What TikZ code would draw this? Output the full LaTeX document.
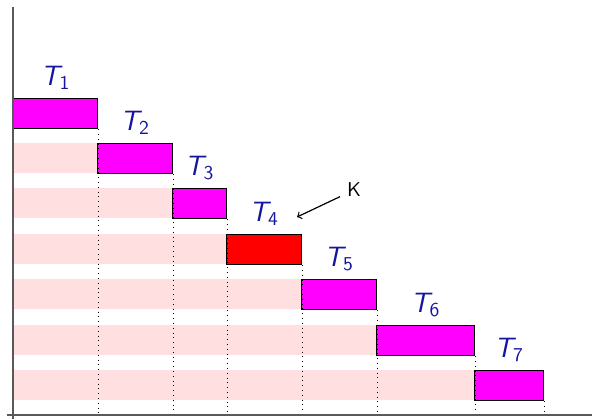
\documentclass[tikz,border=0pt]{standalone}
\usepackage{tikz}
\usetikzlibrary{arrows}
\usepackage{amsmath}
\definecolor{tblue}{rgb}{0.08,0.08,0.62}
\definecolor{tpink}{rgb}{1,0.875,0.875}
\definecolor{tmag}{rgb}{1,0,1}
\tikzset{task/.style={draw=black, fill=tmag, line width=0.6pt, minimum height=15pt, inner sep=0pt, anchor=north west}}
\tikzset{tlabel/.style={text=tblue, font=\fontsize{14}{16}\sffamily, above=0.5pt}}
\tikzset{axis/.style={draw=black!65, line width=0.8pt}}
\newcommand{\tk}[1]{$\textsf{\itshape T}_{\textsf{#1}}$}
\begin{document}
\begin{tikzpicture}[x=0.5pt,y=-0.5pt]
  \useasboundingbox (0,0) rectangle (592,419);
  \coordinate (o) at (13,415);
  \fill[tpink] (13,143) rectangle (97,173);
  \fill[tpink] (13,188) rectangle (172,218);
  \fill[tpink] (13,234) rectangle (226,264);
  \fill[tpink] (13,279) rectangle (301,309);
  \fill[tpink] (13,325) rectangle (376,355);
  \fill[tpink] (13,370) rectangle (474,400);
  \node[task, minimum width=42pt] (T1) at (13,98) {};
  \node[task, minimum width=37.5pt] (T2) at (97,143) {};
  \node[task, minimum width=27pt] (T3) at (172,188) {};
  \node[task, minimum width=37.5pt, fill=red] (T4) at (226,234) {};
  \node[task, minimum width=37.5pt] (T5) at (301,279) {};
  \node[task, minimum width=49pt] (T6) at (376,325) {};
  \node[task, minimum width=34.5pt] (T7) at (474,370) {};
  \node[tlabel] (l1) at (T1.north) {\tk{1}};
  \node[tlabel] (l2) at (T2.north) {\tk{2}};
  \node[tlabel] (l3) at (T3.north) {\tk{3}};
  \node[tlabel] (l4) at (T4.north) {\tk{4}};
  \node[tlabel] (l5) at (T5.north) {\tk{5}};
  \node[tlabel] (l6) at (T6.north) {\tk{6}};
  \node[tlabel] (l7) at (T7.north) {\tk{7}};
  \draw[dotted] (T1.south east) -- (T1.south east |- o);
  \draw[dotted] (T2.south east) -- (T2.south east |- o);
  \draw[dotted] (T3.south east) -- (T3.south east |- o);
  \draw[dotted] (T4.south east) -- (T4.south east |- o);
  \draw[dotted] (T5.south east) -- (T5.south east |- o);
  \draw[dotted] (T6.south east) -- (T6.south east |- o);
  \draw[dotted] (T7.south east) -- (T7.south east |- o);
  \node[font=\sffamily] (K) at (354,190) {K};
  \coordinate (k4) at (297,217);
  \draw[->, line width=0.6pt] (K) -- (k4);
  \draw[axis] (13,7) -- (13,419);
  \draw[axis] (7,415) -- (592,415);
\end{tikzpicture}
\end{document}
